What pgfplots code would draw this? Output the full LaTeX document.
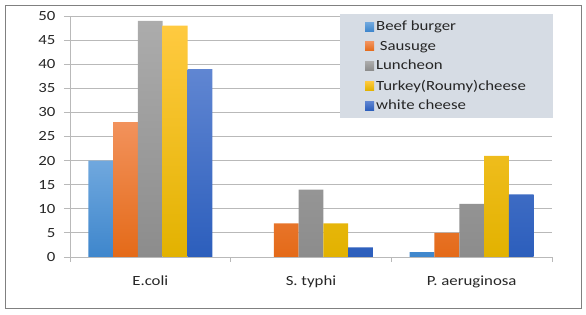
\documentclass[border=0pt]{standalone}
\usepackage{fontspec}
\setmainfont{Carlito}[FakeStretch=1.2]
\usepackage{pgfplots}
\pgfplotsset{compat=1.18}
\definecolor{c1t}{RGB}{112,168,222}\definecolor{c1b}{RGB}{62,134,204}
\definecolor{c2t}{RGB}{242,146,92}\definecolor{c2b}{RGB}{228,106,24}
\definecolor{c3t}{RGB}{172,172,172}\definecolor{c3b}{RGB}{140,140,140}
\definecolor{c4t}{RGB}{255,202,64}\definecolor{c4b}{RGB}{226,178,0}
\definecolor{c5t}{RGB}{96,134,210}\definecolor{c5b}{RGB}{44,94,188}
\definecolor{legbg}{RGB}{214,220,228}
\definecolor{gridc}{RGB}{185,185,185}
\definecolor{framec}{RGB}{128,128,128}
\begin{document}
\begin{tikzpicture}
\begin{axis}[
  at={(0pt,0pt)}, anchor=south west,
  scale only axis, width=482pt, height=241pt,
  xmin=-0.5, xmax=2.5, ymin=0, ymax=50,
  axis x line*=bottom, axis y line*=left,
  axis line style={draw=gridc, line width=0.8pt, -},
  ytick={0,5,...,50},
  /pgf/number format/assume math mode=true,
  ymajorgrids, grid style={draw=gridc, line width=0.8pt},
  tick align=outside, major tick length=6pt,
  tick style={draw=gridc, line width=0.8pt},
  xtick={0,1,2}, xticklabels={E.coli, S. typhi, P. aeruginosa},
  major x tick style={draw=none},
  extra x ticks={-0.5,0.5,1.5,2.5}, extra x tick labels={},
  extra x tick style={major x tick style={draw=gridc}, major tick length=5pt, grid=none},
  ticklabel style={font=\fontsize{14}{16}\selectfont, text=black!85},
  yticklabel style={xshift=-5pt},
  xticklabel style={yshift=-9pt},
  ybar=0pt, bar width=0.1543,
  legend style={at={(0.560,1.008)}, anchor=north west, fill=legbg, draw=none,
    font=\fontsize{14}{16}\selectfont, row sep=4.5pt, inner xsep=25pt, inner ysep=5pt,
    text=black!85},
  legend cell align=left,
  legend image code/.code={\path[#1, draw=none] (0pt,-4.5pt) rectangle (9pt,4.5pt);},
]
\addplot[draw=none, top color=c1t, bottom color=c1b] coordinates {(0,20) (2,1)};
\addplot[draw=none, top color=c2t, bottom color=c2b] coordinates {(0,28) (1,7) (2,5)};
\addplot[draw=none, top color=c3t, bottom color=c3b] coordinates {(0,49) (1,14) (2,11)};
\addplot[draw=none, top color=c4t, bottom color=c4b] coordinates {(0,48) (1,7) (2,21)};
\addplot[draw=none, top color=c5t, bottom color=c5b] coordinates {(0,39) (1,2) (2,13)};
\legend{Beef burger,\ Sausuge,Luncheon,Turkey(Roumy)cheese,white cheese}
\end{axis}
\draw[framec, line width=0.8pt] (-65pt,-51pt) rectangle (511pt,252pt);
\pgfresetboundingbox
\path (-70pt,-58pt) rectangle (516pt,257pt);
\end{tikzpicture}
\end{document}
